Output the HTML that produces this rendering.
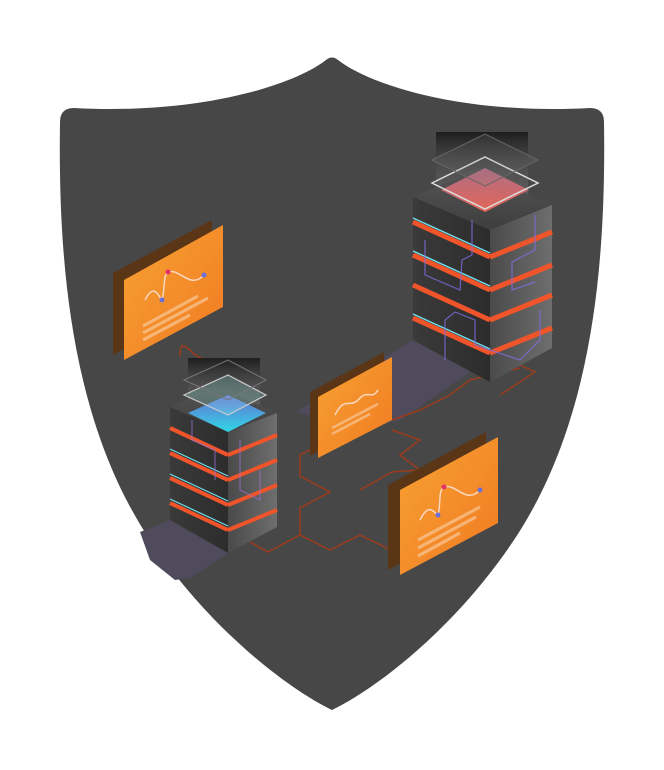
<!DOCTYPE html>
<html><head><style>html,body{margin:0;padding:0;background:#fff;width:664px;height:770px;overflow:hidden}</style></head>
<body>
<svg width="664" height="770" viewBox="0 0 664 770" xmlns="http://www.w3.org/2000/svg">
<defs>
<linearGradient id="lf" x1="0" y1="0" x2="1" y2="0"><stop offset="0" stop-color="#3a3a3a"/><stop offset="1" stop-color="#2c2c2c"/></linearGradient>
<linearGradient id="rf" x1="0" y1="0" x2="1" y2="0"><stop offset="0" stop-color="#4a4a4a"/><stop offset="1" stop-color="#6e6e6e"/></linearGradient>
<linearGradient id="tp" x1="0" y1="0" x2="0" y2="1"><stop offset="0" stop-color="#555"/><stop offset="1" stop-color="#3e3e3e"/></linearGradient>
<linearGradient id="og" x1="0" y1="0" x2="1" y2="1"><stop offset="0" stop-color="#f7a233"/><stop offset="1" stop-color="#f07a22"/></linearGradient>
<linearGradient id="pk" x1="0" y1="0" x2="0" y2="1"><stop offset="0" stop-color="#b9708a"/><stop offset="1" stop-color="#f46a5a"/></linearGradient>
<linearGradient id="cy" x1="0" y1="0" x2="0" y2="1"><stop offset="0" stop-color="#6a70d8"/><stop offset="1" stop-color="#2fe0f0"/></linearGradient>
<linearGradient id="hz" x1="0" y1="0" x2="0" y2="1"><stop offset="0" stop-color="#1e1e1e"/><stop offset="1" stop-color="#777" stop-opacity="0.4"/></linearGradient>
</defs>
<path d="M326,60 Q332,55 338,60 C370,85 464,115 590,108 Q604,108 604,122 C606,260 594,420 514,540 C454,630 374,690 332,710 C290,690 210,630 150,540 C70,420 58,260 60,122 Q60,108 74,108 C200,115 294,85 326,60 Z" fill="#474747"/>
<polygon points="140,532 170,520 228,553 190,578 175,580 150,560" fill="#4f4a5c"/>
<polygon points="296,412 413,340 470,372 400,420 360,430" fill="#4f4a5c"/>
<g fill="none" stroke="#9a3c1c" stroke-width="1.5">
<path d="M180,356 C180,340 185,345 195,355 L210,362"/>
<path d="M250,542 L268,552 L300,535 L330,550 L360,535 L395,552"/>
<path d="M300,535 L300,508 L330,492 L300,476 L300,455 L320,445"/>
<path d="M392,420 L420,410 L450,395 L470,380 L520,368"/>
<path d="M360,490 L392,472 L420,470 L400,455 L420,440 L392,430"/>
<path d="M520,365 L535,372 L500,395"/>
</g>
<polygon points="113,273 212,220 212,300 113,355" fill="#5a3516"/>
<polygon points="124,280 223,225 223,307 124,360" fill="url(#og)"/>
<g stroke="#f8c08a" stroke-width="3" opacity="0.8"><line x1="143" y1="326" x2="198" y2="296"/><line x1="143" y1="333" x2="208" y2="298"/><line x1="143" y1="340" x2="190" y2="315"/></g>
<path d="M145,300 C155,280 160,300 162,300 C165,290 163,275 168,272 C180,268 190,290 204,275" fill="none" stroke="#fbd7c0" stroke-width="1.5"/>
<circle cx="168" cy="272" r="2.5" fill="#e0306a"/><circle cx="162" cy="300" r="2.5" fill="#6a70d8"/><circle cx="204" cy="275" r="2.5" fill="#6a70d8"/>
<polygon points="310,392 384,352 384,418 310,456" fill="#5a3516"/>
<polygon points="318,397 392,357 392,420 318,458" fill="url(#og)"/>
<g stroke="#f8c08a" stroke-width="2.5" opacity="0.8"><line x1="332" y1="428" x2="378" y2="404"/><line x1="332" y1="434" x2="370" y2="414"/></g>
<path d="M335,415 C345,395 350,410 360,398 C368,390 372,400 378,390" fill="none" stroke="#fbd7c0" stroke-width="1.5"/>
<polygon points="388,485 486,432 486,518 388,570" fill="#5a3516"/>
<polygon points="400,490 498,437 498,523 400,575" fill="url(#og)"/>
<g stroke="#f8c08a" stroke-width="3" opacity="0.8"><line x1="418" y1="540" x2="480" y2="507"/><line x1="418" y1="548" x2="476" y2="517"/><line x1="418" y1="556" x2="460" y2="533"/></g>
<path d="M420,520 C430,500 435,515 438,515 C441,505 438,490 444,487 C456,483 466,505 480,490" fill="none" stroke="#fbd7c0" stroke-width="1.5"/>
<circle cx="444" cy="487" r="2.5" fill="#e0306a"/><circle cx="438" cy="515" r="2.5" fill="#6a70d8"/><circle cx="480" cy="490" r="2.5" fill="#6a70d8"/>
<rect x="436" y="132" width="92" height="65" fill="url(#hz)"/>
<polygon points="413,197 475,170 552,205 490,230" fill="url(#tp)"/>
<polygon points="413,197 490,230 490,382 413,340" fill="url(#lf)"/>
<polygon points="490,230 552,205 552,348 490,382" fill="url(#rf)"/>
<g stroke-width="5" stroke="#f0542a">
<line x1="413" y1="222" x2="490" y2="257"/><line x1="490" y1="257" x2="552" y2="232"/>
<line x1="413" y1="255" x2="490" y2="290"/><line x1="490" y1="290" x2="552" y2="265"/>
<line x1="413" y1="285" x2="490" y2="320"/><line x1="490" y1="320" x2="552" y2="295"/>
<line x1="413" y1="318" x2="490" y2="353"/><line x1="490" y1="353" x2="552" y2="328"/>
</g>
<g stroke-width="1.5" stroke="#6ee0ec"><line x1="413" y1="218" x2="490" y2="253"/><line x1="413" y1="251" x2="490" y2="286"/><line x1="413" y1="314" x2="490" y2="349"/></g>
<g fill="none" stroke="#7e6ee0" stroke-width="1.2" opacity="0.8"><path d="M425,240 L425,275 L460,290 L462,260 L472,255 L472,220"/><path d="M445,360 L445,320 L455,312 L475,320 L475,345 L520,360 L540,340 L540,310"/><path d="M535,215 L535,250 L512,262 L512,290 L535,282"/></g>
<polygon points="441,190 485,168 529,190 485,212" fill="url(#pk)" opacity="0.9"/>
<polygon points="432,183 485,157 538,183 485,209" fill="none" stroke="#ddd" stroke-width="1.5"/>
<polygon points="432,160 485,134 538,160 485,186" fill="#888" fill-opacity="0.15" stroke="#666" stroke-width="1"/>
<rect x="188" y="358" width="72" height="50" fill="url(#hz)"/>
<polygon points="170,407 219,388 277,413 228,432" fill="url(#tp)"/>
<polygon points="170,407 228,432 228,553 170,520" fill="url(#lf)"/>
<polygon points="228,432 277,413 277,527 228,553" fill="url(#rf)"/>
<g stroke-width="4" stroke="#f0542a">
<line x1="170" y1="428" x2="228" y2="455"/><line x1="228" y1="455" x2="277" y2="435"/>
<line x1="170" y1="453" x2="228" y2="480"/><line x1="228" y1="480" x2="277" y2="460"/>
<line x1="170" y1="478" x2="228" y2="505"/><line x1="228" y1="505" x2="277" y2="485"/>
<line x1="170" y1="503" x2="228" y2="530"/><line x1="228" y1="530" x2="277" y2="510"/>
</g>
<g stroke-width="1.2" stroke="#6ee0ec"><line x1="170" y1="449" x2="228" y2="476"/><line x1="170" y1="474" x2="228" y2="501"/><line x1="170" y1="499" x2="228" y2="526"/></g>
<g fill="none" stroke="#9a70d0" stroke-width="1" opacity="0.8"><path d="M192,420 L192,440 L215,450 L215,480"/><path d="M240,440 L240,490 L260,500 L260,470"/></g>
<polygon points="188,413 228,395 266,413 228,432" fill="url(#cy)" opacity="0.95"/>
<polygon points="184,395 228,375 266,395 228,415" fill="#9fe" fill-opacity="0.2" stroke="#ccc" stroke-width="1.2"/>
<polygon points="184,380 228,360 266,380 228,400" fill="none" stroke="#777" stroke-width="1"/>
</svg>
</body></html>
